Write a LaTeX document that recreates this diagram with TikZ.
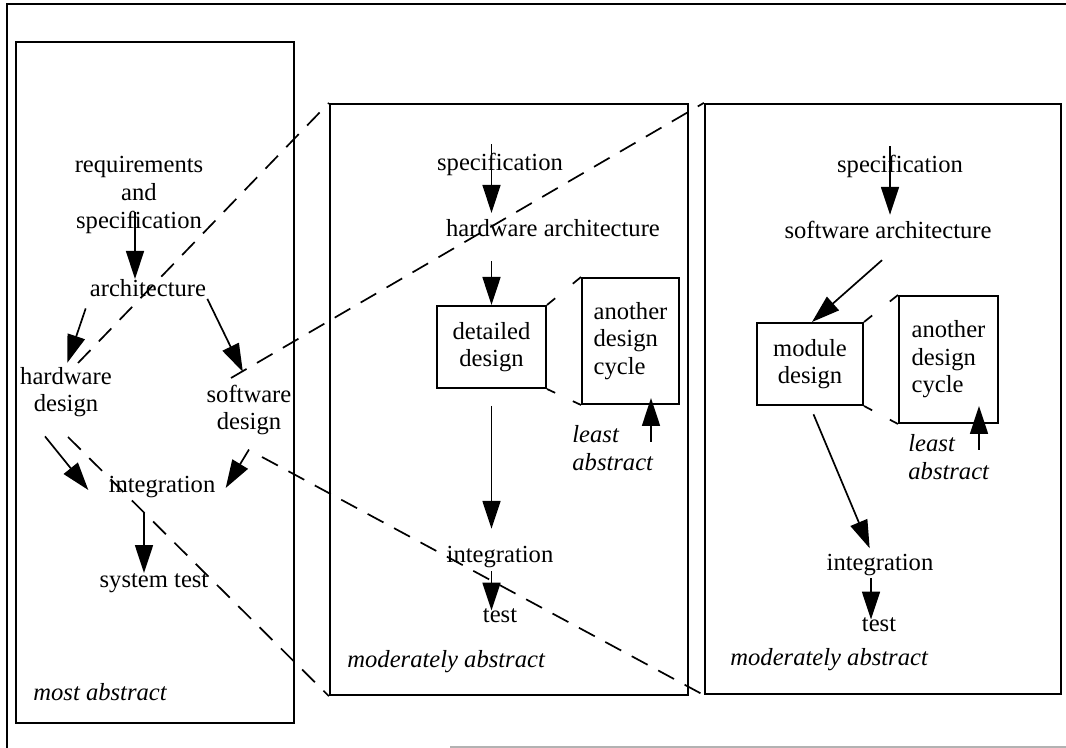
\documentclass[tikz,border=0pt]{standalone}
\usepackage{fontspec}
\setmainfont{Liberation Serif}
\usetikzlibrary{arrows.meta,calc}
\tikzset{
  panel/.style={draw,line width=1.1pt},
  stagebox/.style={draw,line width=1pt,align=center},
  cyclebox/.style={stagebox,align=left},
  tag/.style={align=left,font=\fontsize{12.3}{13.8}\selectfont\itshape},
  flow/.style={-{Triangle[length=14pt,width=9pt]},line width=0.85pt},
  zoomline/.style={line width=0.85pt,dash pattern=on 9pt off 6pt},
  tick/.style={line width=0.85pt},
  frame/.style={line width=1.4pt}
}
% short dashes at both ends of the link between two box corners
\newcommand{\cornerticks}[2]{%
  \draw[tick] (#1) -- ($(#1)!0.24!(#2)$);
  \draw[tick] ($(#1)!0.76!(#2)$) -- (#2);}

\begin{document}
\begin{tikzpicture}[x=0.5pt,y=-0.5pt,
  every node/.style={inner sep=0pt,font=\fontsize{12.3}{13.8}\selectfont}]
\useasboundingbox (0,0) rectangle (1066,748);

% outer frame
\draw[frame] (7,748) |- (1066,4);
\draw[gray!60,line width=0.6pt] (450,747) -- (1066,747);

% the three levels
\node[panel,minimum width=139pt,minimum height=340.5pt] (top) at (155,382.5) {};
\node[panel,minimum width=179pt,minimum height=295.5pt] (hwlvl) at (509,399.5) {};
\node[panel,minimum width=178pt,minimum height=295pt] (swlvl) at (883,399) {};

% most abstract level
\node[align=center] (req) at (139,195) {requirements\\and\\specification};
\node (arch) at (148,288) {architecture};
\node[align=center] (hw) at (66,392) {hardware\\design};
\node[align=center] (sw) at (249,410) {software\\design};
\node (integ) at (162,487) {integration};
\node (systest) at (154,583) {system test};
\node[tag,anchor=west] (mostab) at (33,692) {most abstract};

\draw[flow] ([xshift=-2pt,yshift=11pt]req.south) -- ([xshift=-2pt]req.south |- arch.north);
\draw[flow,shorten <=6pt,shorten >=2pt] (arch.south west) -- (hw.north);
\draw[flow,shorten <=1pt,shorten >=7pt] (arch.south east) -- (sw.north);
\draw[flow] ([xshift=-10.5pt,yshift=-9.5pt]hw.south) -- ([xshift=-10pt,yshift=-1.5pt]integ.west);
\draw[flow] ([yshift=-7pt]sw.south) -- ([xshift=5pt,yshift=-0.5pt]integ.east);
\draw[flow] ([xshift=-9pt,yshift=-7pt]integ.south) -- ([xshift=-9pt]integ.south |- systest.north);

% hardware level
\node (spec2) at (500,164) {specification};
\node (hwarch) at (553,228) {hardware architecture};
\node[stagebox,minimum width=54.5pt,minimum height=41pt] (dd) at (491.5,347) {detailed\\design};
\node[cyclebox,minimum width=48.5pt,minimum height=63pt] (adc) at (630.5,341) {another\\design\\cycle};
\node[tag,anchor=west] (least) at (572,448) {least\\abstract};
\node (integ2) at (500,557) {integration};
\node (test2) at (500,616) {test};
\node[tag,anchor=west] (modab) at (347,662) {moderately abstract};

\draw[flow] ([yshift=4pt]dd.north |- spec2.north) -- ([yshift=3pt]dd.north |- hwarch.north);
\draw[flow,shorten <=12pt] (dd.north |- hwarch.south) -- (dd.north);
\draw[flow,shorten <=8.5pt,shorten >=8.5pt] (dd.south) -- (dd.south |- integ2.north);
\draw[flow,shorten <=1.5pt,shorten >=-1pt] (dd.south |- integ2.south) -- (dd.south |- test2.north);
\coordinate (lift) at (651,442);
\draw[flow,shorten >=-3.5pt] (lift) -- (lift |- adc.south);
\cornerticks{dd.north east}{adc.north west}
\cornerticks{dd.south east}{adc.south west}

% software level
\node (spec3) at (900,166) {specification};
\node (swarch) at (888,230) {software architecture};
\node[stagebox,minimum width=53pt,minimum height=41pt] (md) at (810,364) {module\\design};
\node[cyclebox,minimum width=49.5pt,minimum height=63.5pt] (adc2) at (948.5,359.5) {another\\design\\cycle};
\node[tag,anchor=west] (least2) at (908,457) {least\\abstract};
\node (integ3) at (880,565) {integration};
\node (test3) at (879,625) {test};
\node[tag,anchor=west] (modab2) at (730,660) {moderately abstract};

\draw[flow] ([xshift=-5pt,yshift=4pt]spec3.north) -- ([xshift=-5pt,yshift=3pt]spec3.north |- swarch.north);
\draw[flow] ([xshift=-3pt,yshift=-10.5pt]swarch.south) -- ([xshift=1pt]md.north);
\draw[flow,shorten <=4.5pt,shorten >=3pt] (md.south) -- ([xshift=-4pt]integ3.north);
\draw[flow,shorten <=1pt,shorten >=-1pt] ([xshift=-4.5pt]integ3.south) -- ([xshift=-4.5pt]integ3.south |- test3.north);
\coordinate (lift2) at (979,450);
\draw[flow,shorten >=-9pt] (lift2) -- (lift2 |- adc2.south);
\cornerticks{md.north east}{adc2.north west}
\cornerticks{md.south east}{adc2.south west}

% expansion lines from the design steps to the levels below
\coordinate (hwup) at (78,363);
\coordinate (hwdn) at (68,437);
\coordinate (swup) at (231,378);
\coordinate (swdn) at (262,457);
\draw[zoomline] (hwup) -- (hwlvl.north west);
\draw[zoomline] (hwdn) -- (hwlvl.south west);
\draw[zoomline] (swup) -- (swlvl.north west);
\draw[zoomline] (swdn) -- (swlvl.south west);
\end{tikzpicture}
\end{document}
